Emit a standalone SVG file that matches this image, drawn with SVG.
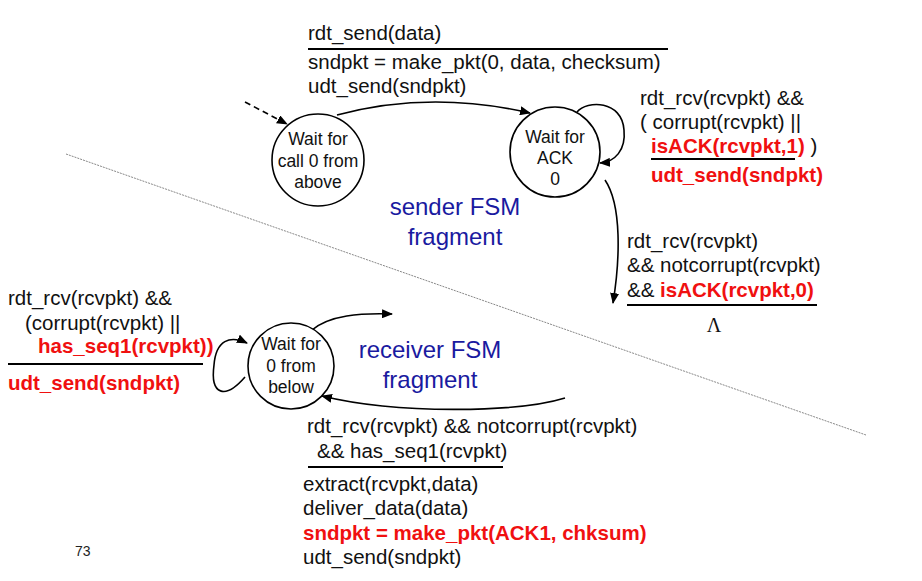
<svg xmlns="http://www.w3.org/2000/svg" width="922" height="581" viewBox="0 0 922 581">
<defs>
<marker id="ah" markerUnits="userSpaceOnUse" markerWidth="11" markerHeight="9" refX="10" refY="4.5" orient="auto">
<path d="M0,0 L11,4.5 L0,9 z" fill="#000"/>
</marker>
<style>
.t{font-family:"Liberation Sans",Arial,sans-serif;font-size:20.5px;fill:#111}
.r{font-family:"Liberation Sans",Arial,sans-serif;font-size:20.5px;font-weight:bold;fill:#f01010}
.c{font-family:"Liberation Sans",Arial,sans-serif;font-size:17.5px;fill:#111;text-anchor:middle}
.b{font-family:"Liberation Sans",Arial,sans-serif;font-size:24px;fill:#1a1aa0;text-anchor:middle}
.st{fill:#fff;stroke:#000;stroke-width:1.6}
.ar{fill:none;stroke:#000;stroke-width:1.6;marker-end:url(#ah)}
.bar{stroke:#000;stroke-width:2.2}
</style>
</defs>
<rect width="922" height="581" fill="#fff"/>
<line x1="66" y1="154" x2="866" y2="435" stroke="#888" stroke-width="1" stroke-dasharray="2,1"/>

<g id="connectors">
<path class="ar" d="M245,102 L287,124" stroke-dasharray="6,4"/>
<path class="ar" d="M337,115 Q430,90 530,113"/>
<path class="ar" d="M577,112 C587,100 622,100 624,130 C626,150 615,162 600,163"/>
<path class="ar" d="M605,180 C622,205 620,260 613,303"/>
<path class="ar" d="M245,377 C225,400 210,395 214,365 C216,340 230,335 247,343"/>
<path class="ar" d="M312,330 C330,315 360,313 392,314"/>
<path class="ar" d="M565,398 C520,412 400,415 322,396"/>
</g>

<g id="wait_call0">
<circle class="st" cx="318" cy="160" r="46"/>
<text class="c" x="318" y="145">Wait for</text>
<text class="c" x="318" y="167">call 0 from</text>
<text class="c" x="318" y="188">above</text>
</g>

<g id="wait_ack0">
<circle class="st" cx="555" cy="152" r="45"/>
<text class="c" x="555" y="143">Wait for</text>
<text class="c" x="555" y="164">ACK</text>
<text class="c" x="555" y="185">0</text>
</g>

<g id="wait_0_below">
<circle class="st" cx="291" cy="366" r="43"/>
<text class="c" x="291" y="350">Wait for</text>
<text class="c" x="291" y="372">0 from</text>
<text class="c" x="291" y="393">below</text>
</g>

<g id="label_send">
<text class="t" x="308" y="40">rdt_send(data)</text>
<line class="bar" x1="308" y1="49" x2="668" y2="49"/>
<text class="t" x="308" y="69">sndpkt = make_pkt(0, data, checksum)</text>
<text class="t" x="308" y="93">udt_send(sndpkt)</text>
</g>

<g id="label_ack_loop">
<text class="t" x="640" y="105">rdt_rcv(rcvpkt) &amp;&amp;</text>
<text class="t" x="640" y="129">( corrupt(rcvpkt) ||</text>
<text class="t" x="651" y="153"><tspan class="r">isACK(rcvpkt,1)</tspan> )</text>
<line class="bar" x1="651" y1="159" x2="795" y2="159"/>
<text class="r" x="651" y="182">udt_send(sndpkt)</text>
</g>

<g id="label_ack_ok">
<text class="t" x="627" y="248">rdt_rcv(rcvpkt)</text>
<text class="t" x="627" y="272">&amp;&amp; notcorrupt(rcvpkt)</text>
<text class="t" x="627" y="297">&amp;&amp; <tspan class="r">isACK(rcvpkt,0)</tspan></text>
<line class="bar" x1="627" y1="305" x2="817" y2="305"/>
<text x="714" y="332" style="font-family:'Liberation Serif',serif;font-size:20px;fill:#111;text-anchor:middle">Λ</text>
</g>

<text class="b" x="455" y="215">sender FSM</text>
<text class="b" x="455" y="245">fragment</text>
<text class="b" x="430" y="358">receiver FSM</text>
<text class="b" x="430" y="388">fragment</text>

<g id="label_rcv_loop">
<text class="t" x="8" y="305">rdt_rcv(rcvpkt) &amp;&amp;</text>
<text class="t" x="25" y="330">(corrupt(rcvpkt) ||</text>
<text class="r" x="38" y="353">has_seq1(rcvpkt))</text>
<line class="bar" x1="8" y1="364" x2="203" y2="364"/>
<text class="r" x="8" y="390">udt_send(sndpkt)</text>
</g>

<g id="label_rcv_ok">
<text class="t" x="307" y="433">rdt_rcv(rcvpkt) &amp;&amp; notcorrupt(rcvpkt)</text>
<text class="t" x="317" y="458">&amp;&amp; has_seq1(rcvpkt)</text>
<line class="bar" x1="308" y1="467" x2="503" y2="467"/>
<text class="t" x="303" y="491">extract(rcvpkt,data)</text>
<text class="t" x="303" y="515">deliver_data(data)</text>
<text class="r" x="303" y="540">sndpkt = make_pkt(ACK1, chksum)</text>
<text class="t" x="303" y="564">udt_send(sndpkt)</text>
</g>

<text x="75" y="556" style="font-family:'Liberation Sans',Arial,sans-serif;font-size:14px;fill:#222">73</text>
</svg>
